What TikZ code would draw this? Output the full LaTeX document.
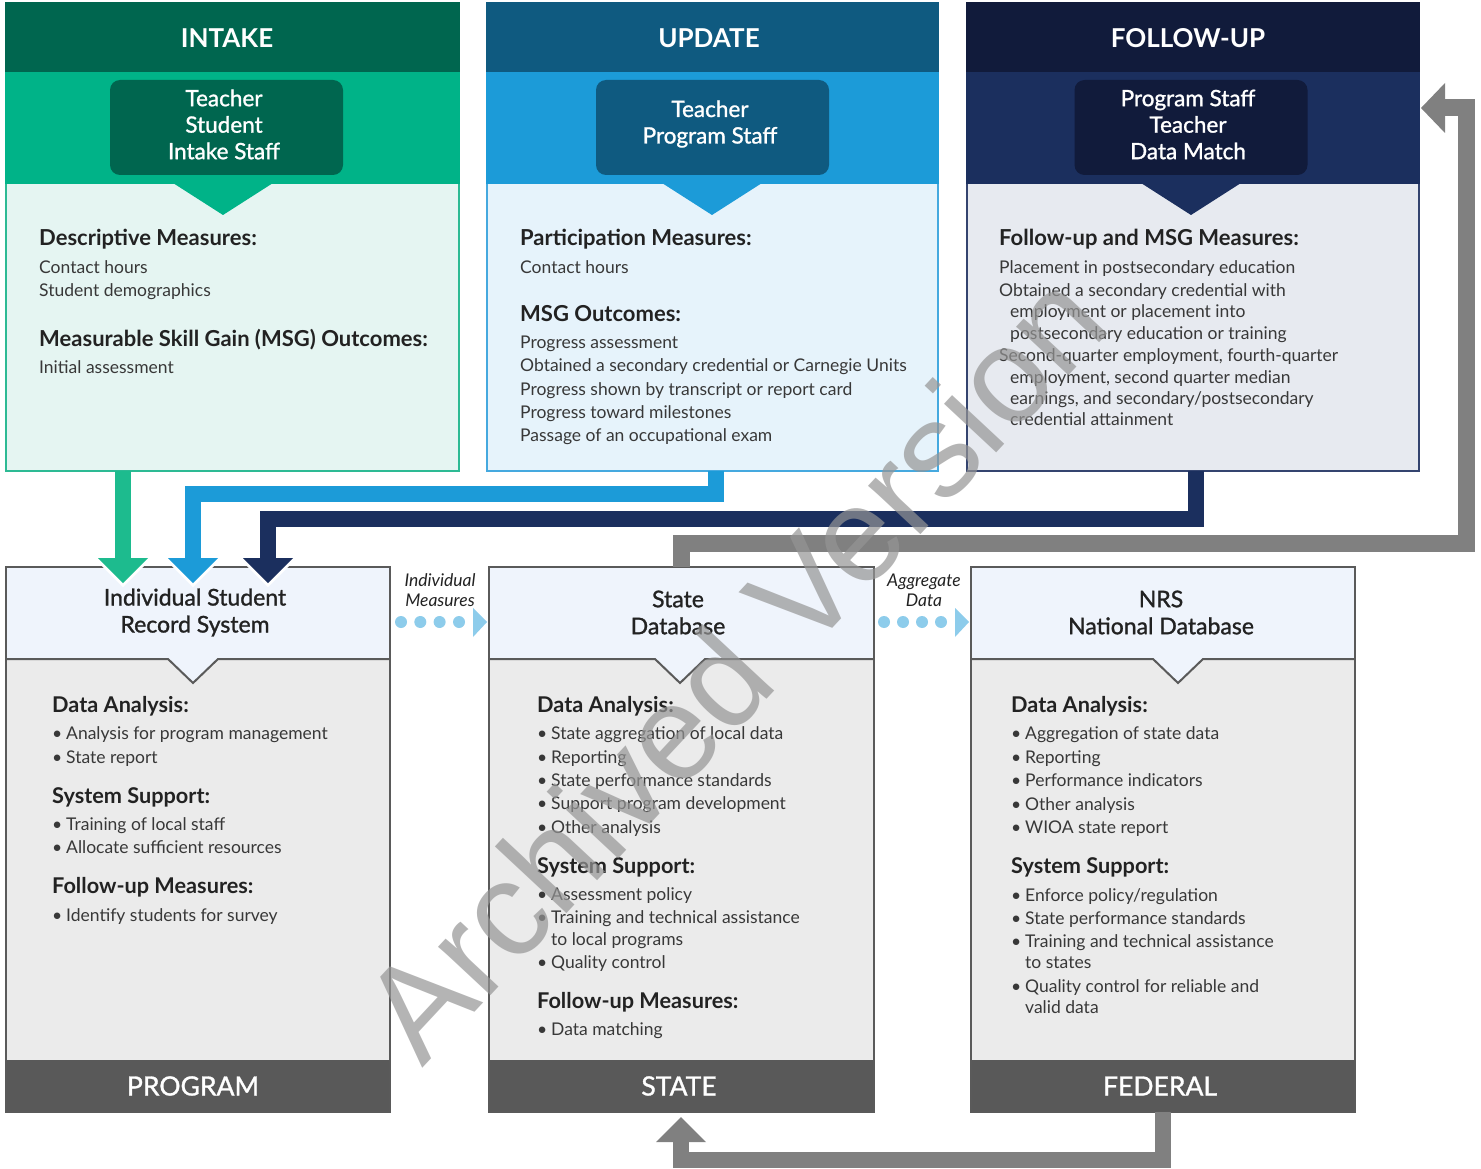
\documentclass[tikz,border=0pt]{standalone}
\usepackage{fontspec}
\setmainfont{Lato}
\newfontfamily\medfont{Lato}[FakeBold=1.2]
\newfontfamily\wmfont{Liberation Sans}
\definecolor{gHead}{HTML}{00664F}
\definecolor{gBand}{HTML}{00B388}
\definecolor{gBody}{HTML}{E5F5F2}
\definecolor{gLine}{HTML}{2DBA94}
\definecolor{gArrow}{HTML}{1DBB8E}
\definecolor{bHead}{HTML}{0F5A80}
\definecolor{bBand}{HTML}{1C9BD8}
\definecolor{bBody}{HTML}{E6F3FB}
\definecolor{bLine}{HTML}{45A9DF}
\definecolor{nHead}{HTML}{111B3B}
\definecolor{nBand}{HTML}{1B2F5E}
\definecolor{nBody}{HTML}{E7EAF0}
\definecolor{nLine}{HTML}{34446F}
\definecolor{pBand}{HTML}{EFF4FC}
\definecolor{pBody}{HTML}{EBEBEB}
\definecolor{pFoot}{HTML}{595959}
\definecolor{pLine}{HTML}{5A5A5A}
\definecolor{grayArrow}{HTML}{808080}
\definecolor{dotc}{HTML}{8DCCEB}
\definecolor{txt}{HTML}{222222}
\definecolor{txtb}{HTML}{383838}
\definecolor{wmc}{HTML}{959595}
\begin{document}
\begin{tikzpicture}[x=1pt,y=-1pt,
  panel/.style={anchor=north west, inner sep=0pt, outer sep=0pt},
  ttl/.style={text=white, font=\bfseries\fontsize{26}{30}\selectfont, inner sep=0pt},
  whobox/.style={rounded corners=10pt, minimum width=233, minimum height=95, inner sep=0pt},
  whotxt/.style={inner sep=0pt, text=white, align=center, font=\medfont\fontsize{22.5}{26.5}\selectfont},
  hd/.style={anchor=west, inner sep=0pt, text=txt, font=\bfseries\fontsize{22}{26}\selectfont, text height=15.5pt, text depth=0pt},
  hdb/.style={hd, font=\bfseries\fontsize{21.7}{26}\selectfont},
  bd/.style={anchor=west, inner sep=0pt, text=txtb, font=\fontsize{17.5}{21}\selectfont, text height=11.5pt, text depth=0pt},
  bl/.style={bd, execute at begin node={\makebox[14pt][l]{•}}},
  shaft/.style={line width=16, line join=miter},
  halo/.style={draw=white, line width=6, line join=miter},
  subttl/.style={inner sep=0pt, align=center, text=txt, font=\medfont\fontsize{23}{27}\selectfont},
  foottl/.style={inner sep=0pt, text=white, font=\medfont\fontsize{26.5}{30}\selectfont},
  lbl/.style={inner sep=0pt, align=center, text=txt, font=\itshape\fontsize{17.5}{20}\selectfont},
]
\useasboundingbox (0,0) rectangle (1481,1169);
\fill[white] (0,0) rectangle (1481,1169);

% ---------- INTAKE ----------
\node[panel, fill=gBody, draw=gLine, line width=2, minimum width=453, minimum height=288] (inBody) at (6,183) {};
\node[panel, fill=gHead, minimum width=455, minimum height=70] (inHead) at (5,2) {};
\node[panel, fill=gBand, minimum width=455, minimum height=112] (inBand) at (5,72) {};
\fill[gBand] (173,183) -- (223,215) -- (273,183) -- cycle;
\node[ttl] (inTitle) at (227,38) {INTAKE};
\node[whobox, fill=gHead] (inWho) at (226.5,127.5) {};
\node[whotxt] (inWhoT) at (224,124.5) {Teacher\\Student\\Intake Staff};
\node[hd] (in1) at (39,238) {Descriptive Measures:};
\node[bd] (in2) at (39,268) {Contact hours};
\node[bd] (in3) at (39,291) {Student demographics};
\node[hd] (in4) at (39,339) {Measurable Skill Gain (MSG) Outcomes:};
\node[bd] (in5) at (39,368) {Initial assessment};

% ---------- UPDATE ----------
\node[panel, fill=bBody, draw=bLine, line width=2, minimum width=451, minimum height=288] (upBody) at (487,183) {};
\node[panel, fill=bHead, minimum width=453, minimum height=70] (upHead) at (486,2) {};
\node[panel, fill=bBand, minimum width=453, minimum height=112] (upBand) at (486,72) {};
\fill[bBand] (662,183) -- (712,215) -- (762,183) -- cycle;
\node[ttl] (upTitle) at (709,38) {UPDATE};
\node[whobox, fill=bHead] (upWho) at (712.5,127.5) {};
\node[whotxt] (upWhoT) at (710,124) {Teacher\\Program Staff};
\node[hd] (up1) at (520,238) {Participation Measures:};
\node[bd] (up2) at (520,268) {Contact hours};
\node[hd] (up3) at (520,314) {MSG Outcomes:};
\foreach \yy/\tt [count=\i] in {343/{Progress assessment}, 366/{Obtained a secondary credential or Carnegie Units}, 390/{Progress shown by transcript or report card}, 413/{Progress toward milestones}, 436/{Passage of an occupational exam}}
  \node[bd] (upL\i) at (520,\yy) {\tt};

% ---------- FOLLOW-UP ----------
\node[panel, fill=nBody, draw=nLine, line width=2, minimum width=452, minimum height=288] (fuBody) at (967,183) {};
\node[panel, fill=nHead, minimum width=454, minimum height=70] (fuHead) at (966,2) {};
\node[panel, fill=nBand, minimum width=454, minimum height=112] (fuBand) at (966,72) {};
\fill[nBand] (1141,183) -- (1191,215) -- (1241,183) -- cycle;
\node[ttl] (fuTitle) at (1188,38) {FOLLOW-UP};
\node[whobox, fill=nHead] (fuWho) at (1191,127.5) {};
\node[whotxt] (fuWhoT) at (1188,124.5) {Program Staff\\Teacher\\Data Match};
\node[hd] (fu1) at (999,238) {Follow-up and MSG Measures:};
\foreach \xx/\yy/\tt [count=\i] in {999/268/{Placement in postsecondary education}, 999/291/{Obtained a secondary credential with}, 1010/312/{employment or placement into}, 1010/334/{postsecondary education or training}, 999/356/{Second-quarter employment, fourth-quarter}, 1010/378/{employment, second quarter median}, 1010/399/{earnings, and secondary/postsecondary}, 1010/420/{credential attainment}}
  \node[bd] (fuL\i) at (\xx,\yy) {\tt};

% ---------- PROGRAM ----------
\node[panel, fill=pBody, minimum width=384, minimum height=402] (pgBody) at (6,659) {};
\node[panel, fill=pBand, minimum width=384, minimum height=92] (pgBand) at (6,567) {};
\fill[pBand] (168,658) -- (193,683) -- (218,658) -- cycle;
\draw[pLine, line width=2] (6,659) -- (168,659) -- (193,683) -- (218,659) -- (390,659);
\node[panel, fill=pFoot, minimum width=384, minimum height=52] (pgFoot) at (6,1060) {};
\draw[pLine, line width=2] (6,567) rectangle (390,1112);
\node[subttl] (pgTitle) at (195,612.5) {Individual Student\\Record System};
\node[foottl] (pgFootT) at (193,1086) {PROGRAM};
\node[hdb] (pg1) at (52,705) {Data Analysis:};
\node[bl] (pg2) at (52,734) {Analysis for program management};
\node[bl] (pg3) at (52,758) {State report};
\node[hdb] (pg4) at (52,796) {System Support:};
\node[bl] (pg5) at (52,825) {Training of local staff};
\node[bl] (pg6) at (52,848) {Allocate sufficient resources};
\node[hdb] (pg7) at (52,886) {Follow-up Measures:};
\node[bl] (pg8) at (52,916) {Identify students for survey};

% ---------- STATE ----------
\node[panel, fill=pBody, minimum width=385, minimum height=402] (stBody) at (489,659) {};
\node[panel, fill=pBand, minimum width=385, minimum height=92] (stBand) at (489,567) {};
\fill[pBand] (655,658) -- (680,683) -- (705,658) -- cycle;
\draw[pLine, line width=2] (489,659) -- (655,659) -- (680,683) -- (705,659) -- (874,659);
\node[panel, fill=pFoot, minimum width=385, minimum height=52] (stFoot) at (489,1060) {};
\draw[pLine, line width=2] (489,567) rectangle (874,1112);
\node[subttl] (stTitle) at (678,612.5) {State\\Database};
\node[foottl] (stFootT) at (679,1086) {STATE};
\node[hdb] (st1) at (537,705) {Data Analysis:};
\foreach \yy/\tt [count=\i] in {734/{State aggregation of local data}, 758/{Reporting}, 781/{State performance standards}, 804/{Support program development}, 828/{Other analysis}}
  \node[bl] (stA\i) at (537,\yy) {\tt};
\node[hdb] (st2) at (537,866) {System Support:};
\node[bl] (stB1) at (537,895) {Assessment policy};
\node[bl] (stB2) at (537,918) {Training and technical assistance};
\node[bd] (stB3) at (551,940) {to local programs};
\node[bl] (stB4) at (537,963) {Quality control};
\node[hdb] (st3) at (537,1001) {Follow-up Measures:};
\node[bl] (stC1) at (537,1030) {Data matching};

% ---------- FEDERAL ----------
\node[panel, fill=pBody, minimum width=384, minimum height=402] (feBody) at (971,659) {};
\node[panel, fill=pBand, minimum width=384, minimum height=92] (feBand) at (971,567) {};
\fill[pBand] (1153,658) -- (1178,683) -- (1203,658) -- cycle;
\draw[pLine, line width=2] (971,659) -- (1153,659) -- (1178,683) -- (1203,659) -- (1355,659);
\node[panel, fill=pFoot, minimum width=384, minimum height=52] (feFoot) at (971,1060) {};
\draw[pLine, line width=2] (971,567) rectangle (1355,1112);
\node[subttl] (feTitle) at (1161,612.5) {NRS\\National Database};
\node[foottl] (feFootT) at (1160,1086) {FEDERAL};
\node[hdb] (fe1) at (1011,705) {Data Analysis:};
\foreach \yy/\tt [count=\i] in {734/{Aggregation of state data}, 758/{Reporting}, 781/{Performance indicators}, 805/{Other analysis}, 828/{WIOA state report}}
  \node[bl] (feA\i) at (1011,\yy) {\tt};
\node[hdb] (fe2) at (1011,866) {System Support:};
\node[bl] (feB1) at (1011,896) {Enforce policy/regulation};
\node[bl] (feB2) at (1011,919) {State performance standards};
\node[bl] (feB3) at (1011,942) {Training and technical assistance};
\node[bd] (feB4) at (1025,963) {to states};
\node[bl] (feB5) at (1011,987) {Quality control for reliable and};
\node[bd] (feB6) at (1025,1008) {valid data};

% ---------- colored arrows into the record system ----------
\coordinate (gS) at (123,471);  \coordinate (gE) at (123,563);
\coordinate (bS) at (716,471);  \coordinate (bE) at (193,563);
\coordinate (nS) at (1196,471); \coordinate (nE) at (268,563);
\foreach \cx/\col in {123/gArrow, 193/bBand, 268/nBand}{
  \draw[halo] (\cx-25,558) -- (\cx,583) -- (\cx+25,558) -- cycle;
  \fill[\col] (\cx-25,558) -- (\cx,583) -- (\cx+25,558) -- cycle;
}
\draw[shaft, gArrow] (gS) -- (gE);
\draw[shaft, bBand] (bS) |- (450,494) -| (bE);
\draw[shaft, nBand] (nS) |- (700,519) -| (nE);

% ---------- gray feedback arrows ----------
\coordinate (g1S) at (681,567);
\coordinate (g1E) at (1444,108);
\draw[shaft, grayArrow, line width=17] (g1S) -- (681,543) -- (1466,543) -- (1466,108) -- (g1E);
\fill[grayArrow] (1445,83) -- (1421,108) -- (1445,133) -- cycle;
\coordinate (g2S) at (1163,1112);
\coordinate (g2E) at (681,1141);
\draw[shaft, grayArrow] (g2S) -- (1163,1160) -- (681,1160) -- (g2E);
\fill[grayArrow] (656,1142) -- (681,1117) -- (706,1142) -- cycle;

% ---------- dotted data-flow arrows ----------
\foreach \x in {401,420.3,439.6,459}{\fill[dotc] (\x,622) circle[radius=6];}
\fill[dotc] (473,608) -- (487,622) -- (473,637) -- cycle;
\node[lbl] (imLab) at (440,590) {Individual\\Measures};
\foreach \x in {884,903,922,941}{\fill[dotc] (\x,622) circle[radius=6];}
\fill[dotc] (955,608) -- (969,622) -- (955,637) -- cycle;
\node[lbl] (agLab) at (924,590) {Aggregate\\Data};

% ---------- watermark ----------
\node[rotate=47, text=wmc, opacity=0.7, inner sep=0pt, font=\wmfont\fontsize{135}{135}\selectfont] (wm) at (733,665) {Archived Version};
\end{tikzpicture}
\end{document}
